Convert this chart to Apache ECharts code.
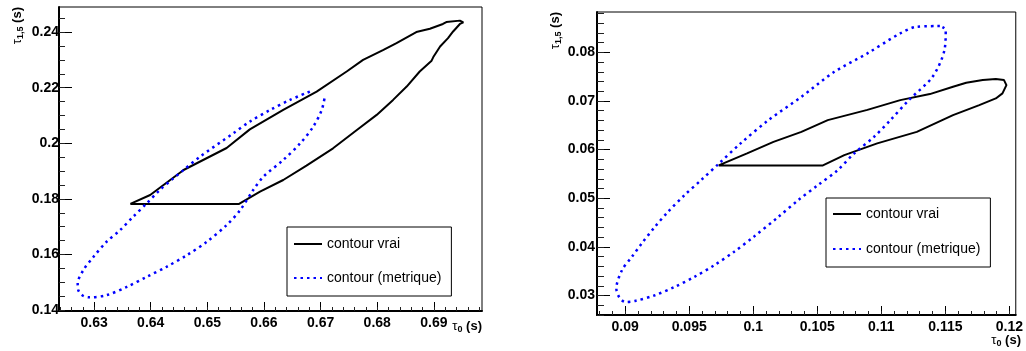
<!DOCTYPE html>
<html>
<head>
<meta charset="utf-8">
<style>
html,body{margin:0;padding:0;background:#fff;}
#chart{width:1026px;height:351px;}
</style>
<script src="https://cdn.jsdelivr.net/npm/echarts@6/dist/echarts.min.js"></script>
</head>
<body>
<div id="chart"></div>
<script>
// ---------- DATA ----------
var seriesNames = ['contour vrai', 'contour (metrique)'];

// Left panel
var leftTrueX = [0.6364,0.6399,0.6458,0.6534,0.6575,0.6634,0.6693,0.6746,0.6775,0.6811,0.6834,0.6869,0.6893,0.6916,0.6922,0.6946,0.6952,
                 0.6946,0.6934,0.6925,0.6911,0.6899,0.6896,0.6875,0.6852,0.6828,0.6799,0.6764,0.6722,0.6675,0.6634,0.6593,0.6556,0.6364];
var leftTrueY = [0.1782,0.1814,0.1904,0.1983,0.2050,0.2120,0.2186,0.2258,0.2300,0.2336,0.2360,0.2400,0.2412,0.2429,0.2436,0.2441,0.2435,
                 0.2429,0.2402,0.2378,0.2348,0.2310,0.2297,0.2258,0.2204,0.2156,0.2102,0.2048,0.1982,0.1920,0.1868,0.1826,0.1782,0.1782];
var leftMetX = [0.6681,0.6646,0.6611,0.6575,0.6546,0.6487,0.6458,0.6440,0.6416,0.6393,0.6369,0.6346,0.6322,0.6299,0.6281,0.6271,0.6272,0.6279,0.6290,
                0.6322,0.6358,0.6393,0.6428,0.6464,0.6499,0.6534,0.6558,0.6581,0.6599,0.6634,0.6664,0.6687,0.6702,0.6708];
var leftMetY = [0.2186,0.2156,0.2120,0.2078,0.2036,0.1952,0.1904,0.1874,0.1832,0.1784,0.1736,0.1688,0.1646,0.1592,0.1544,0.1496,0.1472,0.1454,0.1446,
                0.1454,0.1484,0.1520,0.1556,0.1598,0.1646,0.1706,0.1760,0.1832,0.1880,0.1940,0.2000,0.2060,0.2120,0.2174];

// Right panel
var rightTrueX = [0.0973,0.09952,0.10158,0.10376,0.10582,0.10891,0.11148,0.11379,0.11560,0.11663,0.11792,0.11894,0.11958,0.11977,0.11946,
                  0.11894,0.11765,0.11560,0.11277,0.10968,0.10711,0.10544,0.0973];
var rightTrueY = [0.05675,0.05922,0.06160,0.06366,0.06607,0.06817,0.07018,0.07142,0.07292,0.07374,0.07430,0.07451,0.07430,0.07327,0.07156,
                  0.07053,0.06916,0.06710,0.06366,0.06128,0.05887,0.05675,0.05675];
var rightMetX = [0.11457,0.11277,0.11148,0.10891,0.10634,0.10376,0.10119,0.09901,0.09733,0.09592,0.09463,0.09334,0.09232,0.09129,0.09052,0.08975,0.08931,0.08954,0.09000,
                 0.09077,0.09232,0.09386,0.09540,0.09695,0.09849,0.10003,0.10196,0.10351,0.10505,0.10659,0.10788,0.10943,0.11071,0.11215,0.11400,0.11493,0.11503,0.11477];
var rightMetY = [0.08541,0.08527,0.08391,0.07979,0.07601,0.07086,0.06607,0.06128,0.05716,0.05372,0.05064,0.04720,0.04412,0.04070,0.03794,0.03521,0.03144,0.02965,0.02868,
                 0.02889,0.03006,0.03177,0.03383,0.03623,0.03897,0.04206,0.04617,0.04961,0.05270,0.05578,0.05922,0.06263,0.06607,0.07018,0.07498,0.08047,0.08459,0.08521];

// Axis ranges and tick labels
var leftXRange = [0.6238, 0.6985], leftYRange = [0.1397, 0.249];
var rightXRange = [0.0878, 0.1205], rightYRange = [0.0260, 0.0883];
var leftXTicks = [0.63,0.64,0.65,0.66,0.67,0.68,0.69];
var leftYTicks = [0.14,0.16,0.18,0.2,0.22,0.24];
var rightXTicks = [0.09,0.095,0.1,0.105,0.11,0.115,0.12];
var rightYTicks = [0.03,0.04,0.05,0.06,0.07,0.08];
var leftXMinorStep = 0.002, leftYMinorStep = 0.005, rightXMinorStep = 0.001, rightYMinorStep = 0.002;

// ---------- BUILD ----------
function zip(xs, ys){ return xs.map(function(x,i){ return [x, ys[i]]; }); }
function minors(range, step){
  var out = [], start = Math.ceil(range[0]/step - 1e-9);
  for (var k = start; k*step <= range[1] + 1e-12; k++) out.push(+(k*step).toFixed(6));
  return out;
}
function fmt(v){ return String(parseFloat((+v).toFixed(4))); }

var FONT = '"Liberation Sans", Arial, Helvetica, sans-serif';
var labelStyle = { fontFamily: FONT, fontWeight: 'bold', fontSize: 14, color: '#000', formatter: fmt };

function mainAxis(range, ticks, gridIndex, isY, tickLen, margin){
  return {
    type: 'value', gridIndex: gridIndex, min: range[0], max: range[1],
    position: isY ? 'left' : 'bottom',
    axisLine: { show: true, onZero: false, lineStyle: { color: '#000', width: 2 } },
    axisTick: { show: true, inside: true, length: tickLen, customValues: ticks, lineStyle: { color: '#000', width: 1 } },
    axisLabel: Object.assign({ show: true, customValues: ticks, margin: margin }, labelStyle),
    splitLine: { show: false }
  };
}
function minorAxis(range, step, gridIndex, isY, tickLen){
  return {
    type: 'value', gridIndex: gridIndex, min: range[0], max: range[1],
    position: isY ? 'left' : 'bottom',
    axisLine: { show: false, onZero: false },
    axisTick: { show: true, inside: true, length: tickLen, customValues: minors(range, step), lineStyle: { color: '#222', width: 1 } },
    axisLabel: { show: false },
    splitLine: { show: false }
  };
}

var solid = { color: '#000', width: 2, type: 'solid' };
var dotted = { color: '#0000ff', width: 2.5, type: [2.5, 4] };

function lineSeries(name, data, axIdx, style, smooth){
  return {
    name: name, type: 'line', xAxisIndex: axIdx, yAxisIndex: axIdx,
    data: data, symbol: 'none', showSymbol: false, smooth: smooth,
    lineStyle: style, itemStyle: { color: style.color }, silent: true, animation: false, z: 3
  };
}

var titleRich = {
  t: { fontFamily: FONT, fontSize: 13, color: '#000' },
  s: { fontFamily: FONT, fontSize: 9, fontWeight: 'bold', color: '#000', padding: [8, 0, 0, 0] },
  b: { fontFamily: FONT, fontSize: 13, fontWeight: 'bold', color: '#000' }
};

var legendCommon = {
  orient: 'vertical', itemWidth: 28, itemHeight: 14,
  borderColor: '#000', borderWidth: 1, backgroundColor: '#fff',
  textStyle: { fontFamily: FONT, fontSize: 14, color: '#000' },
  itemStyle: { opacity: 0 },
  data: seriesNames, selectedMode: false, z: 10
};

var option = {
  animation: false,
  backgroundColor: '#fff',
  grid: [
    { left: 59, top: 7, right: 544, bottom: 40, show: true, borderColor: '#000', borderWidth: 1, backgroundColor: 'transparent' },
    { left: 597, top: 12, right: 5, bottom: 36, show: true, borderColor: '#000', borderWidth: 1, backgroundColor: 'transparent' }
  ],
  xAxis: [
    mainAxis(leftXRange, leftXTicks, 0, false, 9, 5),
    minorAxis(leftXRange, leftXMinorStep, 0, false, 4),
    mainAxis(rightXRange, rightXTicks, 1, false, 9, 5),
    minorAxis(rightXRange, rightXMinorStep, 1, false, 4)
  ],
  yAxis: [
    mainAxis(leftYRange, leftYTicks, 0, true, 13, 0),
    minorAxis(leftYRange, leftYMinorStep, 0, true, 6),
    mainAxis(rightYRange, rightYTicks, 1, true, 13, 2),
    minorAxis(rightYRange, rightYMinorStep, 1, true, 7)
  ],
  legend: [
    Object.assign({ left: 287, top: 227, padding: [10, 10, 11, 6], itemGap: 20 }, legendCommon),
    Object.assign({ left: 826, top: 198, padding: [9, 10, 11, 6], itemGap: 21 }, legendCommon)
  ],
  series: [
    lineSeries(seriesNames[0], zip(leftTrueX, leftTrueY), 0, solid, false),
    lineSeries(seriesNames[1], zip(leftMetX, leftMetY), 0, dotted, 0.3),
    lineSeries(seriesNames[0], zip(rightTrueX, rightTrueY), 2, solid, false),
    lineSeries(seriesNames[1], zip(rightMetX, rightMetY), 2, dotted, 0.3)
  ],
  graphic: [
    { type: 'text', x: 482, y: 326, style: { text: '{t|τ}{s|0}{b| (s)}', rich: titleRich, align: 'right', verticalAlign: 'middle' } },
    { type: 'text', x: 1021, y: 340, style: { text: '{t|τ}{s|0}{b| (s)}', rich: titleRich, align: 'right', verticalAlign: 'middle' } },
    { type: 'text', x: 17, y: 7, rotation: Math.PI/2, style: { text: '{t|τ}{s|1,5}{b| (s)}', rich: titleRich, align: 'right', verticalAlign: 'middle' } },
    { type: 'text', x: 555, y: 12, rotation: Math.PI/2, style: { text: '{t|τ}{s|1,5}{b| (s)}', rich: titleRich, align: 'right', verticalAlign: 'middle' } }
  ]
};

var chart = echarts.init(document.getElementById('chart'), null, { renderer: 'canvas' });
chart.setOption(option);
</script>
</body>
</html>
